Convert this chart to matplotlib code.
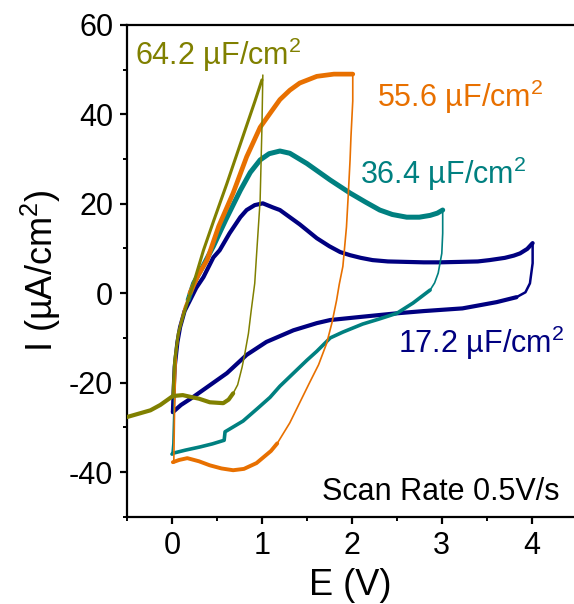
import matplotlib
matplotlib.use("Agg")
import matplotlib.pyplot as plt
from matplotlib.ticker import MultipleLocator

plt.rcParams['font.family'] = ['Liberation Sans', 'DejaVu Sans']
plt.rcParams['mathtext.fontset'] = 'custom'
plt.rcParams['mathtext.rm'] = 'Liberation Sans'
plt.rcParams['mathtext.it'] = 'Liberation Sans:italic'
plt.rcParams['axes.unicode_minus'] = False
plt.rcParams['lines.solid_joinstyle'] = 'round'
plt.rcParams['lines.solid_capstyle'] = 'round'

# --- olive loop (64.2 uF/cm2), window -0.5 .. 1 V ---
olive_up_E = [0.01, 0.03, 0.07, 0.12, 0.18, 0.24, 0.35, 0.46, 0.61, 0.72, 0.83, 0.92, 1.0]
olive_up_I = [-23, -15, -9, -5.4, -1.5, 2.2, 9.6, 16, 24.5, 31, 37.5, 42.8, 47.7]
olive_rev_E = [1.01, 1.0, 0.98, 0.94, 0.92, 0.88, 0.85, 0.81, 0.78, 0.73, 0.68]
olive_rev_I = [48.8, 37, 20.8, 8.5, 2.2, -4, -9, -13.5, -16.5, -20.5, -22.4]
olive_lo_E = [0.68, 0.63, 0.57, 0.42, 0.3, 0.23, 0.12, 0.01, -0.13, -0.24, -0.5]
olive_lo_I = [-22.4, -23.8, -24.6, -24.4, -23.6, -23.3, -22.8, -23, -25, -26.2, -27.7]

# --- orange loop (55.6 uF/cm2), window 0 .. 2 V ---
orange_rise_E = [0.02, 0.03, 0.05, 0.09, 0.14, 0.2]
orange_rise_I = [-38, -24, -13, -7, -3, 0]
orange_up_E = [0.2, 0.29, 0.39, 0.52, 0.68, 0.83, 0.98, 1.1, 1.2, 1.31, 1.42, 1.61, 1.8, 2.01]
orange_up_I = [0, 4, 7.4, 15, 22.4, 30.5, 37.1, 40.5, 43.3, 45.4, 47, 48.5, 49, 49]
orange_rev_E = [2.01, 2.01, 1.99, 1.98, 1.96, 1.94, 1.9, 1.86, 1.83, 1.78, 1.72, 1.63, 1.53, 1.42, 1.31, 1.17]
orange_rev_I = [49, 43, 35, 29.8, 22, 14.8, 6, 2, -1.6, -6.5, -11.2, -16, -20, -24.5, -29, -33.6]
orange_lo_E = [1.17, 1.1, 0.94, 0.8, 0.68, 0.55, 0.42, 0.3, 0.17, 0.08, 0.01]
orange_lo_I = [-33.6, -35.3, -38, -39.3, -39.6, -39.2, -38.5, -37.6, -36.9, -37.3, -37.8]

# --- teal loop (36.4 uF/cm2), window 0 .. 3 V ---
teal_rise_E = [0.0, 0.01, 0.03, 0.06, 0.12, 0.18]
teal_rise_I = [-36, -33.6, -20, -10, -5.4, -1.5]
teal_up_E = [0.18, 0.24, 0.33, 0.46, 0.6, 0.76, 0.87, 0.98, 1.08, 1.2, 1.31, 1.5, 1.76,
             1.98, 2.15, 2.31, 2.45, 2.61, 2.75, 2.87, 2.95, 3.01]
teal_up_I = [-1.5, 2.2, 5.5, 10.5, 16.5, 23, 27, 29.8, 31.2, 31.8, 31.3, 29, 25.3,
             22.4, 20.4, 18.6, 17.6, 17, 17, 17.4, 17.9, 18.6]
teal_rev_E = [3.01, 3.01, 3.0, 2.96, 2.92, 2.87]
teal_rev_I = [18.6, 13.4, 8.9, 4.5, 2.3, 0.7]
teal_lo_E = [2.87, 2.68, 2.5, 2.3, 2.12, 1.9, 1.76, 1.61, 1.5, 1.35, 1.2, 1.09, 0.95,
             0.79, 0.59, 0.58, 0.45, 0.31, 0.15, 0.01, 0.0]
teal_lo_I = [0.7, -2.2, -4.5, -5.8, -6.9, -8.7, -10, -13, -15, -17.9, -20.8, -23.3,
             -25.8, -28.6, -31, -32.9, -33.7, -34.4, -35.1, -35.8, -36]

# --- navy loop (17.2 uF/cm2), window 0 .. 4 V ---
navy_up_E = [0.01, 0.02, 0.03, 0.06, 0.09, 0.14, 0.2, 0.27, 0.35, 0.46, 0.53, 0.64, 0.76,
             0.83, 0.92, 1.01, 1.12, 1.2, 1.31, 1.42, 1.5, 1.61, 1.75, 1.87, 1.98, 2.1,
             2.23, 2.4, 2.6, 2.8, 2.98, 3.2, 3.4, 3.53, 3.7, 3.8, 3.87, 3.95, 4.01]
navy_up_I = [-26.6, -21, -16.5, -11, -7.6, -4, -1.6, 1.2, 3.6, 8, 9.6, 13.4, 17,
             18.6, 19.7, 20.1, 19.2, 18.6, 17, 15.4, 14.1, 12.3, 10.5, 9.2, 8.5, 7.9,
             7.4, 7.1, 7.0, 6.9, 6.9, 7.0, 7.1, 7.4, 7.9, 8.4, 8.9, 9.9, 11.2]
navy_rev_E = [4.01, 4.01, 3.98, 3.93, 3.83]
navy_rev_I = [11.2, 6.7, 2.2, 0.2, -0.9]
navy_lo_E = [3.83, 3.61, 3.23, 2.8, 2.5, 2.1, 1.76, 1.61, 1.35, 1.05, 0.83, 0.61, 0.42,
             0.23, 0.1, 0.01]
navy_lo_I = [-0.9, -2, -3.4, -4, -4.5, -5.3, -6, -6.7, -8.3, -10.9, -13.8, -17.9, -20.6,
             -23.3, -25, -26.6]

# capacitance labels
cap_labels = ['64.2 µF/cm$^2$', '55.6 µF/cm$^2$', '36.4 µF/cm$^2$', '17.2 µF/cm$^2$']
cap_pos = [(-0.41, 53.2), (2.28, 44), (2.09, 26.6), (2.51, -11)]

c_olive = '#808000'
c_orange = '#e87000'
c_teal = '#008080'
c_navy = '#000080'

fig = plt.figure(figsize=(5.74, 6.04), dpi=100)
ax = fig.add_axes([0.2213, 0.1445, 0.7787, 0.8142])

# navy at the back, olive on top
ax.plot(navy_up_E, navy_up_I, color=c_navy, lw=3.0, zorder=2)
ax.plot(navy_rev_E, navy_rev_I, color=c_navy, lw=1.8, zorder=2)
ax.plot(navy_lo_E, navy_lo_I, color=c_navy, lw=3.0, zorder=2)

ax.plot(teal_rise_E, teal_rise_I, color=c_teal, lw=1.2, zorder=3)
ax.plot(teal_up_E, teal_up_I, color=c_teal, lw=3.6, zorder=3)
ax.plot(teal_rev_E, teal_rev_I, color=c_teal, lw=1.2, zorder=3)
ax.plot(teal_lo_E, teal_lo_I, color=c_teal, lw=2.6, zorder=3)

ax.plot(orange_rise_E, orange_rise_I, color=c_orange, lw=1.2, zorder=4)
ax.plot(orange_up_E, orange_up_I, color=c_orange, lw=3.4, zorder=4)
ax.plot(orange_rev_E, orange_rev_I, color=c_orange, lw=1.2, zorder=4)
ax.plot(orange_lo_E, orange_lo_I, color=c_orange, lw=2.8, zorder=4)

ax.plot(olive_up_E, olive_up_I, color=c_olive, lw=2.2, zorder=5)
ax.plot(olive_rev_E, olive_rev_I, color=c_olive, lw=1.1, zorder=5)
ax.plot(olive_lo_E, olive_lo_I, color=c_olive, lw=3.0, zorder=5)

for txt, (x, y), col in zip(cap_labels, cap_pos, [c_olive, c_orange, c_teal, c_navy]):
    ax.text(x, y, txt, color=col, fontsize=22, ha='left', va='center')

ax.text(1.67, -44.5, 'Scan Rate 0.5V/s', color='black', fontsize=22,
        ha='left', va='center')

ax.set_xlim(-0.5, 4.47)
ax.set_ylim(-50, 60)
ax.xaxis.set_major_locator(MultipleLocator(1))
ax.xaxis.set_minor_locator(MultipleLocator(0.5))
ax.yaxis.set_major_locator(MultipleLocator(20))
ax.yaxis.set_minor_locator(MultipleLocator(10))
ax.set_xticks([0, 1, 2, 3, 4])

ax.spines['right'].set_visible(False)
for s in ['left', 'bottom', 'top']:
    ax.spines[s].set_linewidth(1.6)
ax.tick_params(which='major', direction='out', length=5, width=1.6,
               labelsize=22, pad=5, top=False, right=False)
ax.tick_params(which='minor', direction='out', length=3, width=1.4,
               top=False, right=False)

ax.set_xlabel('E (V)', fontsize=26, labelpad=5)
ax.set_ylabel('I (µA/cm$^2$)', fontsize=26, labelpad=4)

fig.savefig('out.png', dpi=100)
